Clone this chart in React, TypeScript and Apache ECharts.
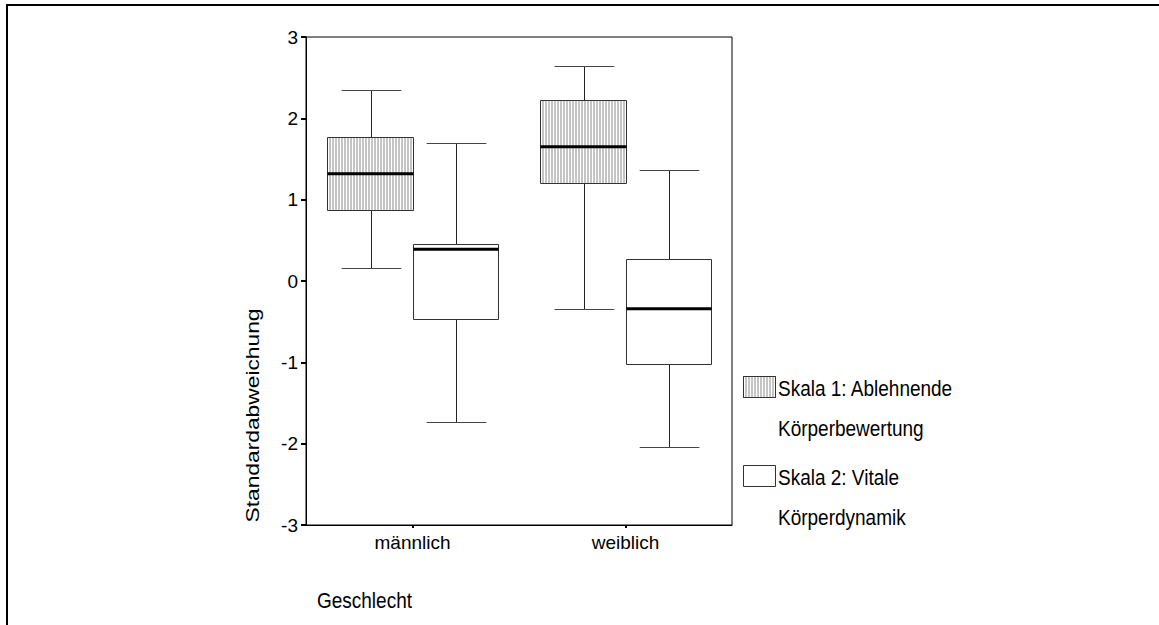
import React, { useEffect, useRef } from "react";
import * as echarts from "echarts";

// ---- data ----
const categories = ["männlich", "weiblich"];
// [lower whisker, Q1, median, Q3, upper whisker]
const skala1Values = [
  [0.16, 0.87, 1.32, 1.77, 2.35],
  [-0.35, 1.2, 1.65, 2.22, 2.64],
];
const skala2Values = [
  [-1.73, -0.47, 0.39, 0.45, 1.7],
  [-2.04, -1.02, -0.34, 0.27, 1.36],
];
const seriesNames = ["Skala 1: Ablehnende Körperbewertung", "Skala 2: Vitale Körperdynamik"];
const legendLines = [
  ["Skala 1: Ablehnende", "Körperbewertung"],
  ["Skala 2: Vitale", "Körperdynamik"],
];
const yTicks = { min: -3, max: 3, interval: 1 };
const yTitle = "Standardabweichung";
const xTitle = "Geschlecht";

const FONT = "'Liberation Sans', Arial, sans-serif";
const STRETCH = 1.2;

function makeRender(side: number, hatched: boolean) {
  return (params: any, api: any) => {
    const cat = api.value(0);
    const low = api.value(1);
    const q1 = api.value(2);
    const med = api.value(3);
    const q3 = api.value(4);
    const high = api.value(5);
    const cx = api.coord([cat, 0])[0];
    const band = api.size([1, 0])[0];
    const bw = band * 0.4;
    const left = Math.round(side < 0 ? cx - bw : cx) + 0.5;
    const right = Math.round(side < 0 ? cx : cx + bw) + 0.5;
    const mid = Math.round((left + right) / 2) + 0.5;
    const y = (v: number) => Math.round(api.coord([cat, v])[1]) + 0.5;
    const yl = y(low), y1 = y(q1), ym = api.coord([cat, med])[1], y3 = y(q3), yh = y(high);
    const capHalf = bw * 0.35;
    const lineStyle = { stroke: "#222", lineWidth: 1 };
    const children: any[] = [
      { type: "line", shape: { x1: mid, y1: yh, x2: mid, y2: y3 }, style: lineStyle },
      { type: "line", shape: { x1: mid, y1: y1, x2: mid, y2: yl }, style: lineStyle },
      { type: "line", shape: { x1: mid - capHalf, y1: yh, x2: mid + capHalf, y2: yh }, style: { stroke: "#444", lineWidth: 1 } },
      { type: "line", shape: { x1: mid - capHalf, y1: yl, x2: mid + capHalf, y2: yl }, style: { stroke: "#444", lineWidth: 1 } },
      { type: "rect", shape: { x: left, y: y3, width: right - left, height: y1 - y3 }, style: { fill: "#fff", stroke: "none" } },
    ];
    if (hatched) {
      for (let x = left + 2.5; x < right - 1; x += 3) {
        children.push({ type: "line", shape: { x1: x, y1: y3, x2: x, y2: y1 }, style: { stroke: "#8a8a8a", lineWidth: 1 } });
      }
    }
    children.push({ type: "rect", shape: { x: left, y: y3, width: right - left, height: y1 - y3 }, style: { fill: "none", stroke: "#333", lineWidth: 1 } });
    children.push({ type: "line", shape: { x1: left, y1: ym, x2: right, y2: ym }, style: { stroke: "#000", lineWidth: 3 } });
    return { type: "group", children };
  };
}

function legendGraphics() {
  const els: any[] = [];
  const boxX = 743.5, boxW = 32, boxH = 21;
  const rows = [376.5, 465.5];
  rows.forEach((top, i) => {
    els.push({ type: "rect", shape: { x: boxX, y: top, width: boxW, height: boxH }, style: { fill: "#fff", stroke: "#333", lineWidth: 1 } });
    if (i === 0) {
      for (let x = boxX + 2.5; x < boxX + boxW - 1; x += 3) {
        els.push({ type: "line", shape: { x1: x, y1: top, x2: x, y2: top + boxH }, style: { stroke: "#8a8a8a", lineWidth: 1 } });
      }
      els.push({ type: "rect", shape: { x: boxX, y: top, width: boxW, height: boxH }, style: { fill: "none", stroke: "#333", lineWidth: 1 } });
    }
    legendLines[i].forEach((t, j) => {
      els.push({
        type: "text",
        x: 778,
        y: top + 11 + j * 40,
        scaleY: STRETCH,
        style: { text: t, fontSize: 19, fontFamily: FONT, fill: "#000", textAlign: "left", textVerticalAlign: "middle" },
      });
    });
  });
  return els;
}

export default function App() {
  const ref = useRef<HTMLDivElement>(null);
  useEffect(() => {
    if (!ref.current) return;
    const chart = echarts.init(ref.current, null, { renderer: "svg" });
    const toData = (vals: number[][]) => vals.map((v, i) => [i, ...v]);
    chart.setOption({
      animation: false,
      backgroundColor: "#fff",
      grid: { left: 306, top: 37, width: 426, height: 488, show: true, borderColor: "#000", borderWidth: 1, backgroundColor: "transparent" },
      xAxis: {
        type: "category",
        data: categories,
        axisLine: { show: true, onZero: false, lineStyle: { color: "#000", width: 1 } },
        axisTick: { show: true, alignWithLabel: true, length: 3, lineStyle: { color: "#000", width: 2 } },
        axisLabel: { fontSize: 19, fontFamily: FONT, color: "#000", margin: 8 },
        splitLine: { show: false },
      },
      yAxis: {
        type: "value",
        min: yTicks.min,
        max: yTicks.max,
        interval: yTicks.interval,
        axisLine: { show: true, lineStyle: { color: "#000", width: 1 } },
        axisTick: { show: true, length: 5, lineStyle: { color: "#000", width: 2 } },
        axisLabel: { fontSize: 19, fontFamily: FONT, color: "#000", margin: 8 },
        splitLine: { show: false },
      },
      series: [
        {
          name: seriesNames[0],
          type: "custom",
          renderItem: makeRender(-1, true),
          data: toData(skala1Values),
          encode: { x: 0, y: [1, 2, 3, 4, 5] },
          clip: false,
          silent: true,
        },
        {
          name: seriesNames[1],
          type: "custom",
          renderItem: makeRender(1, false),
          data: toData(skala2Values),
          encode: { x: 0, y: [1, 2, 3, 4, 5] },
          clip: false,
          silent: true,
        },
      ],
      graphic: [
        { type: "line", shape: { x1: 7, y1: 5, x2: 1159, y2: 5 }, style: { stroke: "#000", lineWidth: 2 } },
        { type: "line", shape: { x1: 7, y1: 4, x2: 7, y2: 625 }, style: { stroke: "#000", lineWidth: 2 } },
        {
          type: "text",
          x: 252,
          y: 415.5,
          rotation: Math.PI / 2,
          scaleX: STRETCH,
          style: { text: yTitle, fontSize: 19, fontFamily: FONT, fill: "#000", textAlign: "center", textVerticalAlign: "middle" },
        },
        {
          type: "text",
          x: 317,
          y: 600,
          scaleY: STRETCH,
          style: { text: xTitle, fontSize: 19, fontFamily: FONT, fill: "#000", textAlign: "left", textVerticalAlign: "middle" },
        },
        ...legendGraphics(),
      ],
    });
    return () => chart.dispose();
  }, []);
  return <div ref={ref} style={{ position: "absolute", left: 0, top: 0, width: 1159, height: 625 }} />;
}
